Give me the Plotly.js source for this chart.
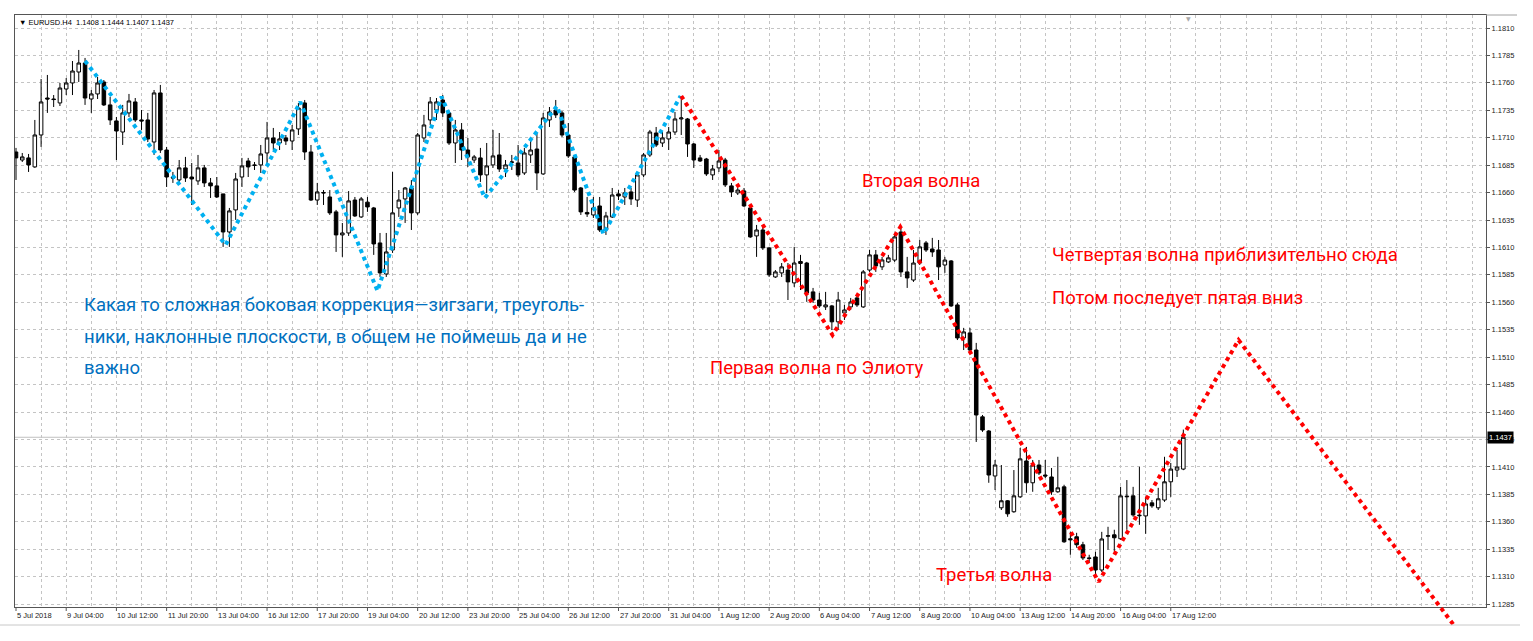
<!DOCTYPE html>
<html><head><meta charset="utf-8">
<script src="https://cdn.plot.ly/plotly-3.0.1.min.js"></script>
<style>html,body{margin:0;padding:0;background:#fff;}#chart{width:1533px;height:641px;}</style>
</head><body><div id="chart"></div>
<script>
// ---------- DATA (EURUSD H4) ----------
const symbol = 'EURUSD.H4';
const openP = [1.16970,1.16897,1.16916,1.16834,1.17125,1.17462,1.17453,1.17417,1.17544,1.17599,
1.17699,1.17781,1.17453,1.17499,1.17608,1.17399,1.17253,1.17152,1.17326,1.17426,
1.17262,1.17262,1.17061,1.17508,1.16988,1.16738,1.16715,1.16825,1.16742,1.16706,
1.16825,1.16688,1.16661,1.16588,1.16241,1.16442,1.16742,1.16888,1.16852,1.16852,
1.16961,1.17098,1.17052,1.17098,1.17070,1.17180,1.17417,1.16970,1.16532,1.16601,
1.16560,1.16424,1.16214,1.16232,1.16532,1.16378,1.16513,1.16460,1.16141,1.15858,
1.16077,1.16460,1.16542,1.16642,1.16415,1.17098,1.17262,1.17353,1.17444,1.17326,
1.17052,1.17171,1.16988,1.16897,1.16916,1.16761,1.16852,1.16943,1.16815,1.16875,
1.16870,1.16779,1.16943,1.16997,1.16770,1.17262,1.17353,1.17326,1.17125,1.16925,
1.16642,1.16419,1.16396,1.16478,1.16259,1.16378,1.16588,1.16560,1.16606,1.16532,
1.16761,1.16943,1.17143,1.17052,1.17089,1.17152,1.17271,1.17271,1.17043,1.16916,
1.16906,1.16761,1.16825,1.16897,1.16661,1.16597,1.16615,1.16460,1.16205,1.16259,
1.16096,1.15831,1.15868,1.15894,1.15777,1.15972,1.15958,1.15695,1.15621,1.15558,
1.15567,1.15422,1.15503,1.15558,1.15640,1.15558,1.15894,1.16032,1.15923,1.15968,
1.15985,1.16241,1.15877,1.15803,1.15958,1.16141,1.16086,1.16077,1.15940,1.15977,
1.15576,1.15275,1.15321,1.15165,1.14556,1.14427,1.14017,1.13727,1.13791,1.13691,
1.13827,1.14154,1.13955,1.14117,1.14026,1.14008,1.13873,1.13918,1.13445,1.13463,
1.13390,1.13270,1.13279,1.13160,1.13468,1.13481,1.13445,1.13827,1.13836,1.13654,
1.13653,1.13772,1.13727,1.13798,1.13964,1.14071,1.1408];
const highP = [1.17007,1.16961,1.16952,1.17262,1.17635,1.17672,1.17489,1.17599,1.17644,1.17799,
1.17900,1.17827,1.17535,1.17654,1.17626,1.17471,1.17289,1.17399,1.17499,1.17462,
1.17353,1.17326,1.17535,1.17581,1.17016,1.16788,1.16897,1.16925,1.16870,1.16943,
1.16852,1.16733,1.16742,1.16588,1.16460,1.16779,1.16916,1.16916,1.16879,1.17034,
1.17244,1.17189,1.17152,1.17125,1.17216,1.17417,1.17444,1.17034,1.16688,1.16623,
1.16623,1.16442,1.16323,1.16614,1.16560,1.16560,1.16560,1.16469,1.16232,1.16232,
1.16788,1.16623,1.16651,1.16715,1.17143,1.17308,1.17471,1.17462,1.17489,1.17344,
1.17262,1.17234,1.17098,1.16943,1.17007,1.17052,1.17171,1.17143,1.16897,1.16943,
1.17034,1.17007,1.17079,1.17143,1.17326,1.17380,1.17444,1.17344,1.17234,1.16943,
1.16651,1.16560,1.16560,1.16560,1.16424,1.16642,1.16623,1.16642,1.16642,1.16788,
1.16961,1.17171,1.17198,1.17152,1.17198,1.17335,1.17462,1.17280,1.17052,1.16943,
1.16916,1.16852,1.16988,1.16916,1.16688,1.16642,1.16642,1.16469,1.16305,1.16287,
1.16105,1.15894,1.15958,1.15958,1.16105,1.16032,1.15968,1.15731,1.15686,1.15695,
1.15576,1.15695,1.15576,1.15640,1.15667,1.15894,1.16077,1.16077,1.16014,1.16032,
1.16232,1.16277,1.16014,1.16077,1.16168,1.16159,1.16187,1.16168,1.16014,1.15985,
1.15595,1.15367,1.15367,1.15230,1.14573,1.14436,1.14163,1.14117,1.13798,1.14071,
1.14273,1.14282,1.14163,1.14163,1.14163,1.14090,1.14192,1.13937,1.13508,1.13499,
1.13417,1.13299,1.13326,1.13508,1.13554,1.13527,1.13918,1.13980,1.13918,1.14101,
1.13827,1.13798,1.13909,1.14192,1.14136,1.14254,1.1444];
const lowP = [1.16715,1.16879,1.16788,1.16825,1.17016,1.17326,1.17380,1.17389,1.17489,1.17489,
1.17608,1.17399,1.17326,1.17453,1.17389,1.17216,1.16897,1.17034,1.17289,1.17244,
1.17171,1.17061,1.16943,1.16961,1.16651,1.16688,1.16697,1.16697,1.16487,1.16670,
1.16651,1.16551,1.16551,1.16105,1.16105,1.16351,1.16651,1.16742,1.16806,1.16779,
1.16852,1.16988,1.16988,1.17034,1.16988,1.17125,1.16897,1.16523,1.16487,1.16487,
1.16396,1.16059,1.16014,1.16205,1.16378,1.16369,1.16424,1.16032,1.15831,1.15831,
1.16050,1.16378,1.16323,1.16259,1.16396,1.17061,1.17216,1.17262,1.17289,1.17034,
1.16870,1.16897,1.16834,1.16870,1.16697,1.16596,1.16825,1.16788,1.16742,1.16806,
1.16742,1.16761,1.16870,1.16623,1.16761,1.17198,1.17280,1.17107,1.16916,1.16606,
1.16396,1.16378,1.16369,1.16241,1.16214,1.16369,1.16532,1.16487,1.16487,1.16469,
1.16742,1.16925,1.17016,1.17016,1.16988,1.17125,1.17125,1.16925,1.16825,1.16879,
1.16752,1.16715,1.16788,1.16651,1.16560,1.16578,1.16469,1.16187,1.16014,1.16077,
1.15831,1.15822,1.15831,1.15621,1.15740,1.15712,1.15604,1.15595,1.15549,1.15530,
1.15347,1.15347,1.15439,1.15530,1.15558,1.15549,1.15877,1.15877,1.15894,1.15958,
1.15968,1.15831,1.15731,1.15786,1.15940,1.16059,1.16014,1.15803,1.15868,1.15558,
1.15256,1.15165,1.15148,1.14327,1.14419,1.13955,1.13889,1.13707,1.13645,1.13682,
1.13818,1.13864,1.13873,1.14026,1.13998,1.13845,1.13864,1.13408,1.13299,1.13363,
1.13251,1.13226,1.13106,1.13142,1.13345,1.13328,1.13436,1.13527,1.13645,1.13572,
1.13490,1.13727,1.13707,1.13781,1.13827,1.14008,1.1407];
const closeP = [1.16916,1.16925,1.16852,1.17125,1.17426,1.17453,1.17448,1.17553,1.17599,1.17708,
1.17781,1.17462,1.17499,1.17599,1.17399,1.17262,1.17161,1.17326,1.17435,1.17262,
1.17253,1.17088,1.17508,1.16988,1.16742,1.16733,1.16825,1.16733,1.16724,1.16825,
1.16688,1.16661,1.16560,1.16241,1.16433,1.16724,1.16843,1.16834,1.16848,1.16952,
1.17098,1.17052,1.17089,1.17070,1.17171,1.17371,1.16970,1.16532,1.16606,1.16597,
1.16415,1.16214,1.16232,1.16524,1.16387,1.16542,1.16469,1.16132,1.15868,1.16059,
1.16415,1.16532,1.16642,1.16415,1.17125,1.17216,1.17426,1.17426,1.17326,1.17052,
1.17171,1.16988,1.16925,1.16925,1.16761,1.16843,1.16934,1.16815,1.16852,1.16879,
1.16761,1.16961,1.16988,1.16779,1.17280,1.17335,1.17308,1.17125,1.16934,1.16623,
1.16424,1.16405,1.16460,1.16259,1.16387,1.16578,1.16569,1.16597,1.16542,1.16761,
1.16943,1.17152,1.17034,1.17098,1.17152,1.17271,1.17280,1.17043,1.16897,1.16888,
1.16770,1.16815,1.16888,1.16670,1.16606,1.16623,1.16478,1.16196,1.16259,1.16096,
1.15850,1.15877,1.15923,1.15786,1.15958,1.15954,1.15685,1.15621,1.15567,1.15576,
1.15422,1.15621,1.15530,1.15603,1.15576,1.15877,1.16032,1.15931,1.15986,1.16005,
1.16196,1.15877,1.15822,1.15958,1.16105,1.16077,1.16059,1.15923,1.15985,1.15567,
1.15275,1.15330,1.15165,1.14573,1.14436,1.14026,1.14117,1.13791,1.13672,1.13836,
1.14173,1.13955,1.14117,1.14044,1.14017,1.13873,1.13909,1.13417,1.13436,1.13390,
1.13270,1.13266,1.13160,1.13443,1.13472,1.13454,1.13836,1.13832,1.13662,1.13659,
1.13762,1.13745,1.13809,1.13964,1.14080,1.14099,1.1437];

// time-axis labels (one every 8 H4 bars)
const xTickLabels = ['5 Jul 2018','9 Jul 04:00','10 Jul 12:00','11 Jul 20:00','13 Jul 04:00','16 Jul 12:00',
'17 Jul 20:00','19 Jul 04:00','20 Jul 12:00','23 Jul 20:00','25 Jul 04:00','26 Jul 12:00','27 Jul 20:00',
'31 Jul 04:00','1 Aug 12:00','2 Aug 20:00','6 Aug 04:00','7 Aug 12:00','8 Aug 20:00','10 Aug 04:00',
'13 Aug 12:00','14 Aug 20:00','16 Aug 04:00','17 Aug 12:00'];

// wave drawings (bar index, price)
const blueWaveBar   = [11.0, 33.4, 45.3, 57.6, 67.8, 74.7, 86.2, 93.6, 105.9];
const blueWavePrice = [1.17800, 1.16123, 1.17426, 1.15704, 1.17474, 1.16551, 1.17389, 1.16223, 1.17480];
const redWaveBar    = [106.0, 130.1, 140.9, 172.5, 194.8, 229.3];
const redWavePrice  = [1.17480, 1.15302, 1.16286, 1.13053, 1.15256, 1.12643];

const blueNote = ['Какая то сложная боковая коррекция—зигзаги, треуголь-',
                  'ники, наклонные плоскости, в общем не поймешь да и не',
                  'важно'];
const redNotes = ['Вторая волна','Четвертая волна приблизительно сюда','Потом последует пятая вниз',
                  'Первая волна по Элиоту','Третья волна'];

// ---------- LAYOUT GEOMETRY ----------
const W = 1533, H = 641;
const PL = 15, PR = 1486, PT = 15, PB = 632, AXB = 607;
const barPx = 6.276, bar0Px = 16;
const refPrice = 1.1810, refPy = 28, pxPerUnit = 27.43 / 0.0025;
const xAt = px => (px - bar0Px) / barPx;
const yAt = py => refPrice - (py - refPy) / pxPerUnit;
const xRange = [xAt(PL), xAt(PR)];
const yMainRange = [yAt(AXB), yAt(PT)];
const yFullRange = [yAt(PB), yAt(PT)];
const mainDomainBottom = (PB - AXB) / (PB - PT);
const pX = px => (px - PL) / (PR - PL);
const pY = py => (PB - py) / (PB - PT);

const gridCol = '#c4c4c4';
const tickFont = {family: 'Liberation Sans, Arial, sans-serif', size: 7.5, color: '#222'};
const noteFont = 'Roboto, Noto Sans, sans-serif';

const nBars = closeP.length;
const last = nBars - 1;
const barIndex = closeP.map((_, i) => i);          // bar slot on the time axis
const majorVals = xTickLabels.map((_, i) => i * 8);
const gridVals = [];
for (let v = 0; v <= Math.floor(xRange[1]); v += 4) gridVals.push(v);

const traces = [
  {
    type: 'candlestick', xaxis: 'x', yaxis: 'y', x: barIndex,
    open: openP, high: highP, low: lowP, close: closeP,
    increasing: {line: {color: '#000', width: 1}, fillcolor: '#ffffff'},
    decreasing: {line: {color: '#000', width: 1}, fillcolor: '#000000'},
    whiskerwidth: 0, hoverinfo: 'skip', showlegend: false
  },
  {
    type: 'scatter', mode: 'lines', xaxis: 'x2', yaxis: 'y2',
    x: blueWaveBar, y: blueWavePrice,
    line: {color: '#00B0F0', width: 4, dash: '4px,4px'}, hoverinfo: 'skip', showlegend: false
  },
  {
    type: 'scatter', mode: 'lines', xaxis: 'x2', yaxis: 'y2',
    x: redWaveBar, y: redWavePrice,
    line: {color: '#FF0000', width: 4, dash: '4px,4px'}, hoverinfo: 'skip', showlegend: false
  }
];

const f4 = v => v.toFixed(4);
const annotations = [
  {xref: 'paper', yref: 'paper', x: pX(17), y: pY(22.7), xanchor: 'left', yanchor: 'middle', showarrow: false,
   text: '▼ ' + symbol + '  ' + [openP[last], highP[last], lowP[last], closeP[last]].map(f4).join(' '),
   font: {family: tickFont.family, size: 7.5, color: '#000'}},
  {xref: 'paper', yref: 'y', x: 1, xshift: 1, y: closeP[last], xanchor: 'left', yanchor: 'middle', showarrow: false,
   text: f4(closeP[last]), bgcolor: '#000', borderpad: 1,
   font: {family: tickFont.family, size: 7.5, color: '#fff'}},
  {xref: 'paper', yref: 'paper', x: pX(1188), y: pY(18), xanchor: 'center', yanchor: 'middle', showarrow: false,
   text: '▼', font: {family: 'DejaVu Sans', size: 6, color: '#a8a8a8'}}
];
// x-axis time labels, left-aligned just right of each tick (as in the terminal)
xTickLabels.forEach((t, i) => annotations.push({xref: 'x', yref: 'paper', x: majorVals[i], xshift: -1, y: pY(615),
  xanchor: 'left', yanchor: 'middle', showarrow: false, text: t, font: tickFont}));
const blueY = [305, 337, 368];
blueNote.forEach((t, i) => annotations.push({xref: 'paper', yref: 'paper', x: pX(82), y: pY(blueY[i]),
  xanchor: 'left', yanchor: 'middle', showarrow: false, text: t, font: {family: noteFont, size: 18.5, color: '#0070C0'}}));
const redPos = [[860, 181], [1050, 255], [1050, 298], [708, 368], [934, 575]];
redNotes.forEach((t, i) => annotations.push({xref: 'paper', yref: 'paper', x: pX(redPos[i][0]), y: pY(redPos[i][1]),
  xanchor: 'left', yanchor: 'middle', showarrow: false, text: t, font: {family: noteFont, size: 18.5, color: '#FF0000'}}));

const shapes = [
  {type: 'line', xref: 'paper', yref: 'y', x0: 0, x1: 1, y0: closeP[last], y1: closeP[last],
   line: {color: '#c0c0c0', width: 1}, layer: 'below'},
  {type: 'line', xref: 'paper', yref: 'paper', x0: pX(0), x1: pX(1520), y0: pY(625), y1: pY(625),
   line: {color: '#c8c8c8', width: 1}},
  {type: 'line', xref: 'paper', yref: 'paper', x0: pX(PR), x1: pX(1517), y0: pY(PT), y1: pY(PT),
   line: {color: '#a0a0a0', width: 1}}
];
// small tick marks under each time label
majorVals.forEach(v => shapes.push({type: 'line', xref: 'x', yref: 'paper', x0: v, x1: v,
  y0: pY(AXB), y1: pY(AXB + 4), line: {color: '#555', width: 1}}));

const layout = {
  width: W, height: H,
  margin: {l: PL, r: W - PR, t: PT, b: H - PB, pad: 0},
  paper_bgcolor: '#ffffff', plot_bgcolor: 'rgba(255,255,255,0)',
  showlegend: false, boxgap: 0.25, boxgroupgap: 0.25,
  font: tickFont,
  xaxis: {
    domain: [0, 1], range: xRange, anchor: 'y', type: 'linear', fixedrange: true,
    showline: true, mirror: true, linecolor: '#555', linewidth: 1, zeroline: false,
    tickmode: 'array', tickvals: gridVals, ticktext: gridVals.map(() => ''),
    ticks: '', showticklabels: false,
    showgrid: true, gridcolor: gridCol, griddash: 'dot', gridwidth: 1,
    rangeslider: {visible: false}
  },
  yaxis: {
    domain: [mainDomainBottom, 1], range: yMainRange, anchor: 'x', side: 'right', type: 'linear', fixedrange: true,
    showline: true, mirror: true, linecolor: '#555', linewidth: 1, zeroline: false,
    tickmode: 'linear', tick0: 1.1285, dtick: 0.0025, tickformat: '.4f',
    ticks: 'outside', ticklen: 3, tickcolor: '#555', tickfont: tickFont,
    showgrid: true, gridcolor: gridCol, griddash: 'dot', gridwidth: 1
  },
  xaxis2: {domain: [0, 1], range: xRange, anchor: 'y2', visible: false, fixedrange: true},
  yaxis2: {domain: [0, 1], range: yFullRange, anchor: 'x2', visible: false, fixedrange: true},
  annotations: annotations,
  shapes: shapes
};

Plotly.newPlot('chart', traces, layout, {displayModeBar: false, staticPlot: true});
</script>
</body></html>
